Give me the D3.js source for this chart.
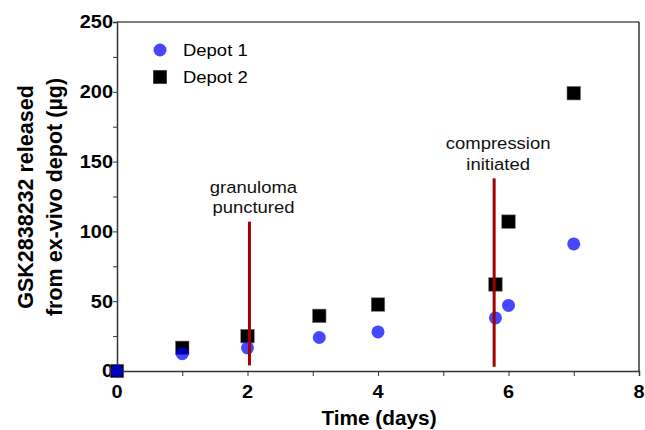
<!DOCTYPE html>
<html>
<head>
<meta charset="utf-8">
<script src="https://cdn.jsdelivr.net/npm/d3@7"></script>
<style>
body { margin: 0; background: #fff; }
text { font-family: "Liberation Sans", Arial, sans-serif; }
</style>
</head>
<body>
<svg id="chart" width="645" height="430"></svg>
<script>
// data
var depot1Days = [0, 1, 2, 3.1, 4, 5.8, 6, 7];
var depot1Vals = [0, 12.4, 16.6, 24, 28, 38, 47, 91];
var depot2Days = [0, 1, 2, 3.1, 4, 5.8, 6, 7];
var depot2Vals = [0, 16.6, 25, 39.5, 47.6, 62, 107, 199];
var xTicks = [0, 2, 4, 6, 8];
var yTicks = [0, 50, 100, 150, 200, 250];
var events = [
	{day: 2.03, top: 107, bottom: 4, label: ["granuloma", "punctured"]},
	{day: 5.78, top: 138, bottom: 3, label: ["compression", "initiated"]}
];

var svg = d3.select("#chart");
var pLeft = 117, pRight = 639, pTop = 22, pBottom = 371;

var x = d3.scaleLinear().domain([0, 8]).range([pLeft, pRight]);
var y = d3.scaleLinear().domain([0, 250]).range([pBottom, pTop]);

// text that is a little wider than the font gives (reference is stretched)
function wideText(px, py, str, size, sx, anchor, bold) {
	var t = svg.append("g")
		.attr("transform", "translate(" + px + "," + py + ") scale(" + sx + ",1)")
		.append("text")
		.attr("text-anchor", anchor || "start")
		.style("font-size", size + "px")
		.text(str);
	if(bold) t.style("font-weight", "bold");
	return t;
}

// frame top / right
svg.append("line").attr("x1", pLeft).attr("x2", pRight).attr("y1", pTop).attr("y2", pTop)
	.attr("stroke", "#000").attr("stroke-width", 1.2);
svg.append("line").attr("x1", pRight).attr("x2", pRight).attr("y1", pTop).attr("y2", pBottom)
	.attr("stroke", "#000").attr("stroke-width", 1.2);

// axes with minor ticks
var xAxis = svg.append("g").attr("transform", "translate(0," + pBottom + ")");
xAxis.call(d3.axisBottom(x).tickValues(d3.range(0, 9, 1)).tickSize(5).tickFormat(""));
var yAxis = svg.append("g").attr("transform", "translate(" + pLeft + ",0)");
yAxis.call(d3.axisLeft(y).tickValues(d3.range(0, 251, 25)).tickSize(4).tickFormat(""));
[xAxis, yAxis].forEach(function(g) {
	g.select(".domain").attr("stroke", "#333").attr("stroke-width", 1.5);
	g.selectAll(".tick line").attr("stroke", "#333").attr("stroke-width", 1);
});

// tick labels
xTicks.forEach(function(d) {
	wideText(x(d), 397.7, d, 17.5, 1.14, "middle", true);
});
yTicks.forEach(function(d) {
	wideText(pLeft - 4, y(d) + 6.3, d, 17.5, 1.14, "end", true);
});

// axis titles
svg.append("text")
	.attr("x", 379)
	.attr("y", 424.5)
	.attr("text-anchor", "middle")
	.style("font-size", "20.8px").style("font-weight", "bold")
	.text("Time (days)");
var yl = svg.append("text")
	.attr("transform", "translate(33,197) rotate(-90)")
	.attr("text-anchor", "middle")
	.style("font-size", "21.5px").style("font-weight", "bold");
yl.append("tspan").attr("x", 0).attr("dy", 0).text("GSK2838232 released");
yl.append("tspan").attr("x", 0).attr("dy", 29).text("from ex-vivo depot (\u00b5g)");

// depot 2 squares
var sq = 13.5;
svg.selectAll("rect.d2").data(depot2Days).enter().append("rect")
	.attr("class", "d2")
	.attr("x", function(d) { return x(d) - sq / 2; })
	.attr("y", function(d, i) { return y(depot2Vals[i]) - sq / 2; })
	.attr("width", sq).attr("height", sq)
	.attr("fill", "#000").attr("stroke", "#777").attr("stroke-width", 0.6);

// depot 1 circles
svg.selectAll("circle.d1").data(depot1Days).enter().append("circle")
	.attr("class", "d1")
	.attr("cx", function(d) { return x(d); })
	.attr("cy", function(d, i) { return y(depot1Vals[i]); })
	.attr("r", 6.5)
	.attr("fill", "#0000ff").attr("fill-opacity", 0.72);

// event lines + labels
events.forEach(function(e) {
	svg.append("line")
		.attr("x1", x(e.day)).attr("x2", x(e.day))
		.attr("y1", y(e.top)).attr("y2", y(e.bottom))
		.attr("stroke", "#a30000").attr("stroke-width", 3);
	e.label.forEach(function(t, i) {
		wideText(x(e.day) + 4, y(e.top) - 29 + i * 20.8, t, 16.8, 1.1, "middle")
			.attr("fill", "#111");
	});
});

// legend
var lg = svg.append("g");
lg.append("circle").attr("cx", 160).attr("cy", 50).attr("r", 6.5)
	.attr("fill", "#0000ff").attr("fill-opacity", 0.72);
lg.append("rect").attr("x", 160 - sq / 2).attr("y", 77 - sq / 2).attr("width", sq).attr("height", sq)
	.attr("fill", "#000");
wideText(183, 56, "Depot 1", 16.8, 1.1);
wideText(183, 83, "Depot 2", 16.8, 1.1);
</script>
</body>
</html>
